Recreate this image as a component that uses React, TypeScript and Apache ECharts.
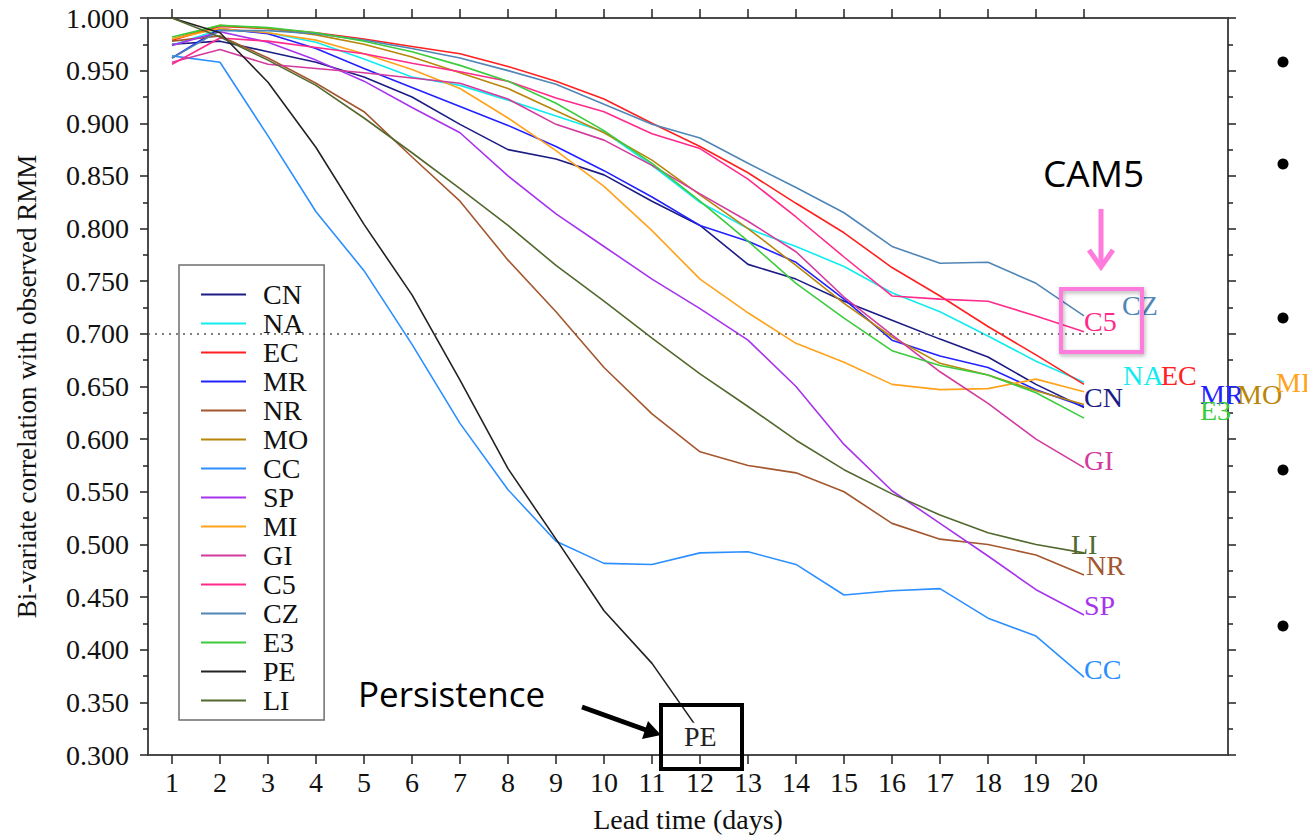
import React, { useEffect, useRef } from 'react';
import * as echarts from 'echarts';

// ---------- data ----------
const DAYS = [1, 2, 3, 4, 5, 6, 7, 8, 9, 10, 11, 12, 13, 14, 15, 16, 17, 18, 19, 20];
const MODELS = ['CN', 'NA', 'EC', 'MR', 'NR', 'MO', 'CC', 'SP', 'MI', 'GI', 'C5', 'CZ', 'E3', 'PE', 'LI'];

const CN = [0.975, 0.978, 0.968, 0.958, 0.944, 0.925, 0.899, 0.875, 0.866, 0.851, 0.826, 0.803, 0.766, 0.752, 0.731, 0.713, 0.695, 0.678, 0.652, 0.630];
const NA = [0.974, 0.989, 0.986, 0.977, 0.961, 0.944, 0.936, 0.922, 0.907, 0.892, 0.860, 0.825, 0.800, 0.783, 0.764, 0.739, 0.721, 0.698, 0.674, 0.654];
const EC = [0.979, 0.992, 0.990, 0.986, 0.980, 0.973, 0.966, 0.954, 0.940, 0.923, 0.900, 0.878, 0.853, 0.824, 0.796, 0.763, 0.736, 0.707, 0.680, 0.652];
const MR = [0.962, 0.990, 0.985, 0.971, 0.952, 0.934, 0.916, 0.898, 0.878, 0.855, 0.830, 0.803, 0.788, 0.768, 0.733, 0.694, 0.679, 0.668, 0.647, 0.631];
const NR = [0.978, 0.983, 0.962, 0.938, 0.911, 0.868, 0.826, 0.770, 0.721, 0.668, 0.624, 0.588, 0.575, 0.568, 0.550, 0.520, 0.505, 0.500, 0.490, 0.471];
const MO = [0.980, 0.993, 0.990, 0.984, 0.975, 0.963, 0.948, 0.933, 0.912, 0.891, 0.865, 0.832, 0.800, 0.765, 0.729, 0.697, 0.672, 0.661, 0.646, 0.633];
const CC = [0.964, 0.958, 0.888, 0.816, 0.760, 0.690, 0.615, 0.552, 0.503, 0.482, 0.481, 0.492, 0.493, 0.481, 0.452, 0.456, 0.458, 0.430, 0.413, 0.374];
const SP = [0.974, 0.987, 0.977, 0.960, 0.940, 0.915, 0.891, 0.850, 0.814, 0.783, 0.752, 0.724, 0.694, 0.650, 0.595, 0.551, 0.520, 0.489, 0.457, 0.433];
const MI = [0.980, 0.990, 0.986, 0.979, 0.966, 0.951, 0.933, 0.905, 0.874, 0.840, 0.798, 0.752, 0.720, 0.691, 0.673, 0.652, 0.647, 0.648, 0.657, 0.645];
const GI = [0.958, 0.970, 0.956, 0.952, 0.948, 0.943, 0.938, 0.923, 0.899, 0.884, 0.860, 0.833, 0.807, 0.778, 0.735, 0.699, 0.664, 0.634, 0.600, 0.573];
const C5 = [0.956, 0.981, 0.978, 0.972, 0.966, 0.957, 0.949, 0.940, 0.924, 0.911, 0.890, 0.876, 0.847, 0.811, 0.773, 0.736, 0.733, 0.731, 0.717, 0.702];
const CZ = [0.962, 0.988, 0.988, 0.985, 0.979, 0.971, 0.962, 0.950, 0.937, 0.918, 0.899, 0.886, 0.862, 0.839, 0.815, 0.783, 0.767, 0.768, 0.748, 0.717];
const E3 = [0.982, 0.993, 0.991, 0.986, 0.978, 0.968, 0.955, 0.940, 0.919, 0.893, 0.862, 0.826, 0.788, 0.748, 0.715, 0.684, 0.670, 0.661, 0.644, 0.620];
const PE = [1.000, 0.986, 0.939, 0.877, 0.804, 0.737, 0.656, 0.572, 0.505, 0.437, 0.387, 0.322];
const LI = [1.000, 0.982, 0.960, 0.936, 0.905, 0.872, 0.838, 0.803, 0.765, 0.731, 0.696, 0.662, 0.631, 0.599, 0.571, 0.548, 0.528, 0.511, 0.500, 0.492];

const VALUES: Record<string, number[]> = { CN, NA, EC, MR, NR, MO, CC, SP, MI, GI, C5, CZ, E3, PE, LI };
const REF_LEVEL = 0.7;

// ---------- styles ----------
const COLORS: Record<string, string> = {
  CN: '#1c1c84', NA: '#12ecef', EC: '#ff2020', MR: '#2222ff', NR: '#a4572f',
  MO: '#b8860b', CC: '#2b8fff', SP: '#a733ec', MI: '#ffa21c', GI: '#d23a9e',
  C5: '#ff2a8c', CZ: '#5086b6', E3: '#3ccb3c', PE: '#222222', LI: '#53682e',
};
const LABEL_OFFSETS: Record<string, [number, number]> = {
  CN: [0, -10], NA: [39, -7], EC: [77, -9], MR: [116, -12], NR: [2, -9],
  MO: [153, -10], CC: [0, -8], SP: [0, -9], MI: [192, -9], GI: [0, -7],
  C5: [0, -10], CZ: [38, -10], E3: [116, -8], PE: [-17, 5], LI: [-13, -8],
};
const SERIF = 'Liberation Serif, Times New Roman, serif';
const SANS = 'Open Sans, Lato, sans-serif';
const PINK = '#ff7bdc';
const FS = 28;

function buildOption() {
  const series: any[] = MODELS.map((name, i) => ({
    name,
    type: 'line',
    symbol: 'none',
    showSymbol: false,
    xAxisIndex: 0,
    yAxisIndex: 0,
    z: 3,
    color: COLORS[name],
    lineStyle: { width: 1.6, color: COLORS[name] },
    data: VALUES[name].map((v, k) => [DAYS[k], v]),
    endLabel: {
      show: true,
      formatter: name,
      distance: 0,
      offset: LABEL_OFFSETS[name],
      color: COLORS[name],
      fontFamily: SERIF,
      fontSize: FS,
      ...(name === 'PE' ? { backgroundColor: '#fff', padding: [0, 1, 0, 1] } : {}),
    },
    markLine: i === 0 ? {
      silent: true,
      symbol: 'none',
      label: { show: false },
      lineStyle: { type: [2, 5], color: '#555', width: 1.5 },
      data: [[{ coord: [0.5, REF_LEVEL] }, { coord: [20.45, REF_LEVEL] }]],
    } : undefined,
  }));

  const axisLine = { show: true, lineStyle: { color: '#4a4a4a', width: 2 } };
  const tickStyle = { color: '#222', width: 1.5 };

  return {
    animation: false,
    backgroundColor: '#ffffff',
    grid: { left: 148, right: 79, top: 18, bottom: 83, containLabel: false },
    legend: {
      data: MODELS,
      orient: 'vertical',
      left: 179,
      top: 265,
      padding: [15, 16, 5, 22],
      itemGap: 0,
      itemWidth: 45,
      itemHeight: 2,
      icon: 'rect',
      backgroundColor: '#fff',
      borderColor: '#6e6e6e',
      borderWidth: 1.5,
      borderRadius: 0,
      selectedMode: false,
      textStyle: { fontFamily: SERIF, fontSize: FS, lineHeight: 29, color: '#111', padding: [0, 0, 0, 12] },
    },
    xAxis: [
      {
        type: 'value', position: 'bottom', min: 0.5, max: 23,
        name: 'Lead time (days)', nameLocation: 'middle', nameGap: 50,
        nameTextStyle: { fontFamily: SERIF, fontSize: FS, color: '#111' },
        axisLine,
        axisTick: { show: true, inside: false, length: 9, lineStyle: tickStyle, customValues: DAYS },
        axisLabel: { show: true, margin: 13, fontFamily: SERIF, fontSize: FS, color: '#111', customValues: DAYS },
        splitLine: { show: false },
      },
      {
        type: 'value', position: 'top', min: 0.5, max: 23,
        axisLine,
        axisTick: { show: true, inside: false, length: 9, lineStyle: tickStyle, customValues: DAYS },
        axisLabel: { show: false },
        splitLine: { show: false },
      },
    ],
    yAxis: [
      {
        type: 'value', position: 'left', min: 0.3, max: 1.0, interval: 0.05,
        name: 'Bi-variate correlation with observed RMM', nameLocation: 'middle', nameGap: 108,
        nameTextStyle: { fontFamily: SERIF, fontSize: 27, color: '#111' },
        axisLine,
        axisTick: { show: true, inside: false, length: 8, lineStyle: tickStyle },
        minorTick: { show: true, splitNumber: 2, length: 5, lineStyle: tickStyle },
        axisLabel: { show: true, margin: 19, fontFamily: SERIF, fontSize: FS, color: '#111', formatter: (v: number) => v.toFixed(3) },
        splitLine: { show: false },
      },
      {
        type: 'value', position: 'right', min: 0.3, max: 1.0, interval: 0.05,
        axisLine,
        axisTick: { show: true, inside: false, length: 8, lineStyle: tickStyle },
        minorTick: { show: true, splitNumber: 2, length: 5, lineStyle: tickStyle },
        axisLabel: { show: false },
        splitLine: { show: false },
      },
    ],
    series,
    graphic: [
      // Persistence annotation
      { type: 'text', left: 358, top: 676, z: 10, style: { text: 'Persistence', font: `35px ${SANS}`, fill: '#000' } },
      { type: 'line', z: 10, shape: { x1: 582, y1: 707, x2: 646, y2: 730 }, style: { stroke: '#000', lineWidth: 5 } },
      { type: 'polygon', z: 10, shape: { points: [[661, 735], [642, 739], [648, 721]] }, style: { fill: '#000' } },
      { type: 'rect', z: 10, shape: { x: 661, y: 705, width: 81, height: 64 }, style: { fill: 'none', stroke: '#000', lineWidth: 4 } },
      // CAM5 annotation
      { type: 'text', left: 1043, top: 154, z: 10, style: { text: 'CAM5', font: `37px ${SANS}`, fill: '#000' } },
      { type: 'line', z: 10, shape: { x1: 1101, y1: 209, x2: 1101, y2: 266 }, style: { stroke: PINK, lineWidth: 5 } },
      { type: 'polyline', z: 10, shape: { points: [[1089, 250], [1101, 267], [1113, 250]] }, style: { stroke: PINK, lineWidth: 5, fill: 'none' } },
      { type: 'rect', z: 10, shape: { x: 1061, y: 289, width: 81, height: 63 }, style: { fill: 'none', stroke: PINK, lineWidth: 4, shadowBlur: 4, shadowColor: 'rgba(0,0,0,0.3)', shadowOffsetX: 1, shadowOffsetY: 2 } },
      // slide bullets
      ...[62, 164, 318, 470, 626].map((y) => ({ type: 'circle', z: 10, shape: { cx: 1283, cy: y, r: 5.5 }, style: { fill: '#000' } })),
    ],
  };
}

export default function App() {
  const ref = useRef<HTMLDivElement>(null);
  useEffect(() => {
    if (!ref.current) return;
    const chart = echarts.init(ref.current, null, { renderer: 'svg' });
    chart.setOption(buildOption() as any);
    return () => chart.dispose();
  }, []);
  return (
    <div
      ref={ref}
      style={{ position: 'fixed', left: 0, top: 0, width: 1307, height: 838, background: '#fff' }}
    />
  );
}
